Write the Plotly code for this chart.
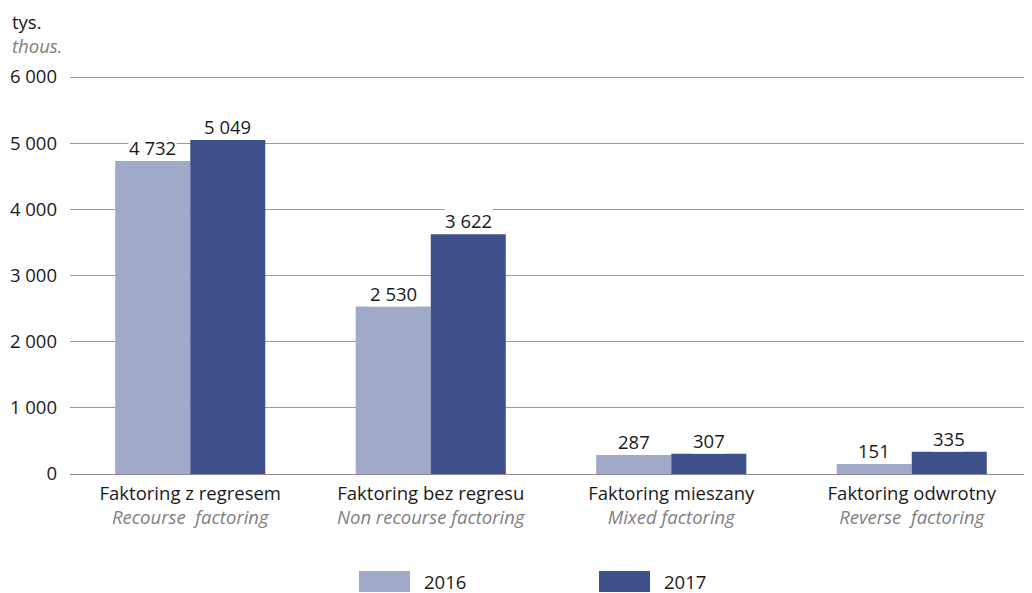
import plotly.graph_objects as go

categories_pl = ["Faktoring z regresem", "Faktoring bez regresu", "Faktoring mieszany", "Faktoring odwrotny"]
categories_en = ["Recourse  factoring", "Non recourse factoring", "Mixed factoring", "Reverse  factoring"]
series_names = ["2016", "2017"]
values_2016 = [4732, 2530, 287, 151]
values_2017 = [5049, 3622, 307, 335]
colors = ["#A1A9C9", "#3F518A"]
y_ticks = [0, 1000, 2000, 3000, 4000, 5000, 6000]

FONT = "Open Sans"
FS = 18.5
OFF = 8  # page body margin

# plot area in window pixels (6000 line at y=77, 0 at y=474)
PL, PR, PT, PB = 70, 1032, 70, 474
Y_TOP = 6000 * (PB - PT) / (474 - 77)
PW, PH = PR - PL, PB - PT

def px_x(x):
    return (x - PL) / PW

def px_y(y):
    return (PB - y) / PH

def fmt(v):
    return f"{v:,}".replace(",", " ")

fig = go.Figure()
for name, vals, col in zip(series_names, [values_2016, values_2017], colors):
    fig.add_trace(go.Bar(x=categories_pl, y=vals, name=name, marker=dict(color=col, line=dict(width=0)),
                         showlegend=False))

annotations = []
for vals, shift in [(values_2016, -37.5), (values_2017, 37.5)]:
    for c, v in zip(categories_pl, vals):
        annotations.append(dict(x=c, y=v, xref="x", yref="y", xshift=shift, yshift=0,
                                text=fmt(v), showarrow=False, yanchor="bottom",
                                bgcolor="white", borderpad=0,
                                font=dict(family=FONT, size=FS, color="#1a1a1a")))

annotations.append(dict(x=px_x(10), y=px_y(7), xref="paper", yref="paper",
                        text="tys.<br><i><span style='color:#808080'>thous.</span></i>",
                        showarrow=False, xanchor="left", yanchor="top", align="left",
                        font=dict(family=FONT, size=FS, color="#1a1a1a")))

shapes = []
legend_px = [359, 599]
for name, col, lx in zip(series_names, colors, legend_px):
    shapes.append(dict(type="rect", xref="paper", yref="paper",
                       x0=px_x(lx), x1=px_x(lx + 51),
                       y0=px_y(571), y1=px_y(592),
                       fillcolor=col, line=dict(width=0)))
    annotations.append(dict(x=px_x(lx + 63), y=px_y(581), xref="paper", yref="paper",
                            text=name, showarrow=False, xanchor="left", yanchor="middle",
                            font=dict(family=FONT, size=FS, color="#1a1a1a")))

ticktext = [f"{pl}<br><i><span style='color:#808080'>{en}</span></i>" for pl, en in zip(categories_pl, categories_en)]

fig.update_layout(
    width=1032 - OFF, height=593 - OFF,
    margin=dict(l=PL - OFF, r=1032 - PR, t=PT - OFF, b=593 - PB),
    plot_bgcolor="white", paper_bgcolor="white",
    barmode="group", bargap=0.376, bargroupgap=0,
    separators=", ",
    font=dict(family=FONT, size=FS, color="#1a1a1a"),
    annotations=annotations, shapes=shapes,
    xaxis=dict(tickmode="array", tickvals=categories_pl, ticktext=ticktext,
               showgrid=False, showline=False, ticks="", ticklabelstandoff=6,
               tickfont=dict(size=FS, family=FONT)),
    yaxis=dict(range=[0, Y_TOP], tickvals=y_ticks, tickformat=",d",
               showgrid=True, gridcolor="#9a9a9a",
               gridwidth=1, zeroline=True, zerolinecolor="#8a8a8a", zerolinewidth=1,
               ticks="", ticklabelstandoff=12, tickfont=dict(size=FS, family=FONT)),
)

fig.write_html("out.html")
